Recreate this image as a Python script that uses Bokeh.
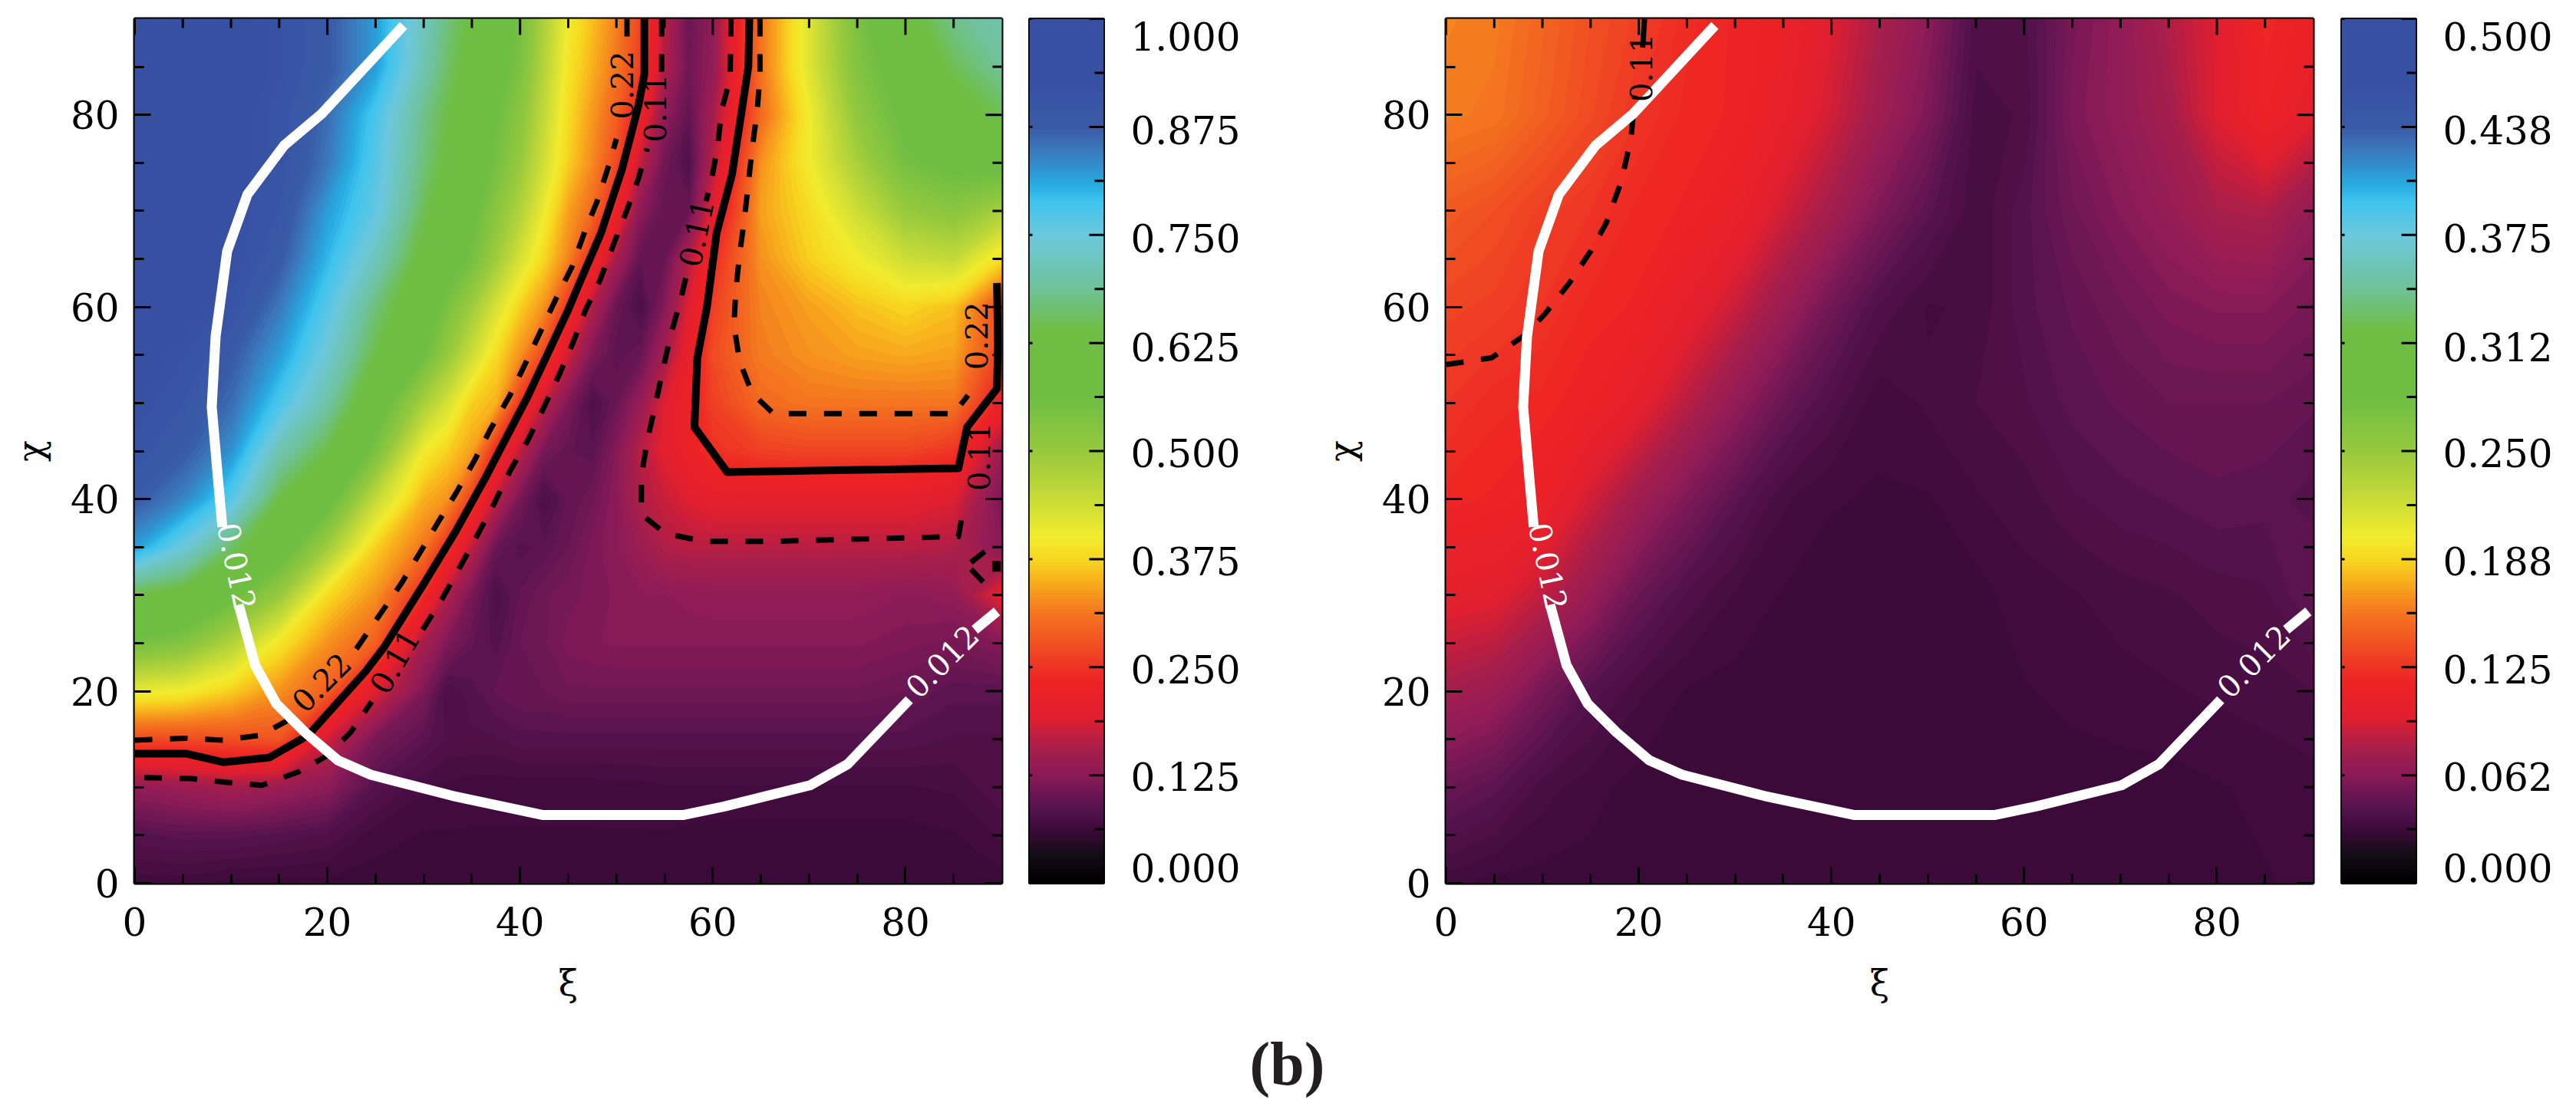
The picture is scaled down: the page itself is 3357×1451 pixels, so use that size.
import numpy as np
from bokeh.plotting import figure
from bokeh.layouts import row, column
from bokeh.embed import file_html
from bokeh.resources import INLINE
from bokeh.models import Range1d, LinearAxis, FixedTicker, LinearColorMapper
from bokeh.core.properties import value

XI_TICKS = [0, 20, 40, 60, 80]
MINOR_TICKS = [5, 10, 15, 25, 30, 35, 45, 50, 55, 65, 70, 75, 85]
xi_nodes_left = [0, 5, 10, 15, 20, 25, 30, 32.5, 35, 37.5, 40, 42.5, 45, 47.5, 50, 52.5, 55, 57.5, 60, 65, 70, 75, 80, 85, 90]
xi_nodes_right = list(range(0, 95, 5))
chi_nodes_left = list(range(0, 95, 5))
chi_nodes_right = list(range(0, 100, 10))

left_values = [
 [.065,.065,.06,.06,.06,.06,.06,.06,.06,.06,.06,.06,.06,.06,.06,.06,.06,.06,.06,.06,.06,.06,.06,.06,.06],
 [.085,.09,.09,.085,.08,.065,.062,.062,.062,.062,.062,.062,.062,.062,.062,.062,.062,.061,.06,.06,.06,.06,.06,.062,.07],
 [.13,.14,.15,.14,.125,.085,.07,.067,.065,.065,.065,.065,.065,.065,.066,.066,.068,.068,.068,.068,.068,.068,.068,.07,.08],
 [.27,.27,.275,.28,.18,.11,.09,.08,.08,.08,.085,.085,.085,.085,.085,.085,.085,.085,.085,.085,.085,.085,.085,.08,.08],
 [.41,.40,.37,.33,.29,.19,.115,.075,.085,.095,.10,.10,.105,.105,.105,.105,.105,.105,.105,.105,.105,.105,.10,.09,.09],
 [.55,.53,.47,.39,.33,.29,.15,.115,.095,.085,.10,.105,.115,.118,.12,.12,.12,.12,.12,.12,.12,.12,.115,.11,.12],
 [.64,.62,.57,.50,.38,.33,.24,.16,.11,.076,.095,.105,.11,.115,.12,.125,.125,.128,.13,.13,.13,.13,.125,.13,.20],
 [.82,.75,.66,.59,.49,.37,.31,.245,.17,.10,.085,.09,.10,.115,.125,.14,.16,.165,.165,.165,.165,.165,.165,.16,.12],
 [.88,.84,.77,.64,.58,.45,.35,.33,.26,.17,.11,.075,.095,.105,.125,.16,.175,.19,.20,.20,.20,.20,.20,.19,.11],
 [.91,.88,.83,.71,.64,.54,.40,.37,.34,.24,.17,.11,.095,.09,.12,.165,.195,.22,.245,.26,.265,.265,.265,.25,.14],
 [.93,.90,.86,.78,.70,.59,.48,.43,.37,.35,.25,.17,.115,.078,.10,.135,.19,.225,.26,.30,.31,.31,.31,.31,.22],
 [.94,.92,.88,.82,.74,.64,.56,.50,.44,.38,.33,.265,.18,.115,.09,.10,.15,.21,.27,.315,.33,.34,.345,.34,.26],
 [.95,.94,.91,.85,.77,.67,.59,.54,.49,.43,.37,.33,.25,.16,.10,.076,.12,.19,.26,.32,.34,.36,.375,.36,.27],
 [.96,.95,.93,.88,.80,.72,.62,.58,.55,.49,.43,.375,.32,.24,.15,.095,.10,.16,.24,.33,.37,.40,.44,.45,.38],
 [.96,.95,.93,.90,.82,.76,.65,.61,.57,.52,.47,.405,.34,.30,.225,.125,.095,.10,.195,.34,.38,.44,.50,.52,.48],
 [.96,.95,.94,.91,.85,.77,.67,.63,.59,.55,.50,.435,.37,.325,.27,.17,.105,.08,.165,.33,.40,.48,.55,.57,.58],
 [.96,.95,.94,.91,.86,.78,.68,.64,.60,.56,.52,.45,.38,.335,.29,.22,.13,.095,.15,.30,.40,.51,.57,.61,.65],
 [.96,.96,.95,.92,.88,.82,.71,.66,.62,.58,.54,.465,.39,.35,.31,.26,.16,.105,.13,.31,.42,.53,.59,.65,.69],
 [.97,.96,.95,.92,.88,.82,.72,.67,.63,.59,.55,.475,.40,.36,.32,.265,.165,.10,.13,.31,.42,.54,.62,.68,.71],
]

# read as fractions of the colour bar's top value (0.5)
right_fractions = [
 [.065,.06,.06,.06,.06,.06,.06,.06,.06,.06,.06,.06,.06,.06,.06,.06,.06,.062,.064],
 [.10,.09,.072,.065,.06,.06,.06,.06,.06,.06,.06,.06,.06,.06,.06,.06,.062,.064,.066],
 [.15,.14,.11,.085,.07,.062,.06,.06,.06,.06,.06,.06,.062,.064,.066,.068,.07,.072,.075],
 [.20,.195,.17,.135,.10,.08,.068,.062,.06,.06,.06,.06,.066,.068,.072,.074,.078,.08,.095],
 [.235,.23,.22,.18,.145,.115,.09,.07,.063,.062,.062,.068,.072,.08,.085,.088,.092,.09,.085],
 [.25,.24,.235,.225,.20,.165,.13,.10,.08,.064,.07,.075,.08,.09,.095,.10,.10,.10,.095],
 [.265,.26,.25,.235,.23,.205,.175,.14,.105,.08,.068,.07,.085,.095,.105,.115,.12,.12,.11],
 [.285,.275,.26,.25,.235,.23,.215,.18,.15,.115,.09,.07,.085,.105,.12,.135,.155,.16,.13],
 [.315,.31,.29,.27,.25,.235,.23,.21,.18,.145,.115,.072,.076,.115,.13,.15,.19,.225,.195],
 [.32,.315,.295,.275,.26,.24,.23,.22,.19,.155,.125,.078,.08,.11,.13,.16,.19,.235,.22],
]
RIGHT_TOP = 0.5

# colour bar stops (fraction of its height, colour)
bar_stops = [0, .03, .0625, .09, .125, .155, .19, .23, .25, .3125, .35, .375, .40, .45, .50,
             .56, .64, .69, .75, .79, .81, .85, .875, .93, 1]
bar_colors = ["#000000", "#120c14", "#3f0a3c", "#5a1450", "#8c1b58", "#a81e4a", "#e01f30",
              "#ee2224", "#ee3424", "#f4771f", "#f8b01c", "#f7d820", "#f2ec2e", "#c3d938",
              "#97c93d", "#6fbe44", "#6fbe44", "#6fc29a", "#6cc8dc", "#3fc4ee", "#27aae1",
              "#3b78bb", "#3a5ba8", "#3750a2", "#3750a2"]

left_bar_labels = ["0.000", "0.125", "0.250", "0.375", "0.500", "0.625", "0.750", "0.875", "1.000"]
right_bar_labels = ["0.000", "0.062", "0.125", "0.188", "0.250", "0.312", "0.375", "0.438", "0.500"]
# where the bar's labels sit along it, as fractions of its height
bar_label_at = [.018, .123, .248, .373, .498, .62, .746, .871, .98]

# contour lines (xi, chi)
white_upper_xi = [27.9, 19.4, 15.5, 11.7, 9.6, 8.4, 8.0, 8.7, 9.1]
white_upper_chi = [89.3, 80.1, 76.8, 71.7, 65.8, 56.9, 49.6, 41.5, 37.1]
white_lower_xi = [10.8, 12.5, 14.7, 17.7, 21.1, 24.5, 33.0, 42.4, 56.9, 61.2, 70.1, 74.0, 80.4]
white_lower_chi = [29.0, 22.7, 18.7, 15.7, 12.8, 11.3, 9.1, 7.1, 7.1, 8.0, 10.2, 12.4, 19.1]
white_end_xi = [87.2, 89.5]
white_end_chi = [26.4, 28.3]

ridge_solid_xi = [0.0, 5.3, 9.2, 14.0, 18.0, 24.0, 25.9, 29.9, 33.3, 36.5, 40.8, 45.0, 46.0, 48.4, 50.6, 52.3, 52.9, 52.9]
ridge_solid_chi = [13.5, 13.5, 12.6, 13.1, 15.4, 22.1, 24.6, 31.0, 36.6, 42.4, 50.7, 59.7, 62.1, 67.7, 74.4, 81.0, 84.2, 90.0]
ridge_up_a_xi = [0.0, 5.3, 9.2, 13.0, 15.8]
ridge_up_a_chi = [14.9, 15.1, 14.9, 15.4, 16.9]
ridge_up_b_xi = [23.0, 27.6, 29.6, 31.5, 33.4, 35.2, 37.0, 38.9, 40.5, 42.2, 43.7, 45.4, 46.7, 48.0, 49.2, 50.0]
ridge_up_b_chi = [24.4, 31.1, 34.4, 37.6, 40.7, 43.9, 47.4, 50.7, 54.0, 57.6, 60.8, 64.2, 67.8, 71.0, 74.7, 77.5]
ridge_up_c_xi = [51.1, 51.1]
ridge_up_c_chi = [90.0, 87.5]
ridge_low_a_xi = [1.0, 5.8, 9.6, 13.2, 17.0, 20.0, 22.4, 24.6]
ridge_low_a_chi = [11.0, 10.9, 10.5, 10.2, 11.6, 13.3, 15.7, 18.9]
ridge_low_b_xi = [29.9, 31.9, 33.7, 35.6, 37.3, 39.0, 40.8, 42.5, 44.0, 45.5, 46.8, 48.3, 49.7, 51.1, 52.3, 53.2]
ridge_low_b_chi = [26.4, 29.6, 32.8, 36.3, 39.5, 43.0, 46.1, 49.6, 52.8, 56.3, 59.7, 62.8, 66.5, 70.1, 73.4, 76.5]
ridge_low_c_xi = [54.7, 54.7]
ridge_low_c_chi = [90.0, 84.0]

box_solid_xi = [63.8, 63.7, 62.0, 60.4, 59.4, 58.4, 58.1, 61.5, 73.0, 85.5, 86.4, 89.5, 89.6, 89.5]
box_solid_chi = [90.0, 85.0, 73.8, 67.7, 60.0, 54.7, 47.5, 42.8, 43.0, 43.2, 47.5, 51.5, 56.2, 62.5]
box_in_xi = [64.9, 64.9, 64.6, 64.1, 63.7, 63.3, 62.8, 62.4, 62.2, 62.8, 64.1, 66.3, 85.0, 86.5]
box_in_chi = [90.0, 84.1, 80.3, 76.6, 72.9, 69.3, 65.6, 61.8, 58.1, 54.3, 51.0, 48.9, 48.9, 50.8]
box_out_a_xi = [61.9, 61.8, 60.9, 60.5, 59.8, 59.3]
box_out_a_chi = [90.0, 83.8, 80.4, 76.6, 72.9, 71.0]
box_out_b_xi = [57.2, 56.7, 55.7, 54.8, 54.0, 53.2, 52.6, 52.6, 55.1, 59.1, 66.3, 85.5, 86.1]
box_out_b_chi = [63.0, 60.9, 57.3, 53.4, 49.6, 46.1, 42.4, 38.4, 36.4, 35.6, 35.6, 36.1, 39.5]
edge_up_xi = [86.8, 88.7, 89.8]
edge_up_chi = [33.4, 34.9, 34.9]
edge_low_xi = [86.8, 88.9]
edge_low_chi = [32.7, 30.5]
edge_blob_xi = [89.0, 89.9]
edge_blob_chi = [33.0, 33.0]

right_dash_xi = [0.0, 4.7, 8.1, 10.2, 12.8, 15.0, 16.6, 18.2, 19.2, 19.6]
right_dash_chi = [54.0, 54.7, 57.0, 59.2, 62.5, 65.8, 68.7, 73.1, 77.6, 82.0]
right_dash_top_xi = [20.4, 20.6]
right_dash_top_chi = [87.0, 90.0]

left_black_text = ["0.22", "0.11", "0.11", "0.22", "0.11", "0.22", "0.11"]
left_black_xi = [50.6, 54.0, 58.3, 87.4, 87.6, 19.4, 27.0]
left_black_chi = [83.1, 80.7, 67.7, 57.0, 44.4, 20.9, 23.1]
left_black_deg = [90, 90, 78, 90, 90, 45, 60]
right_black_text = ["0.11"]
right_black_xi = [20.2]
right_black_chi = [84.9]
right_black_deg = [90]
white_text = ["0.012", "0.012"]
white_text_xi = [10.6, 83.8]
white_text_chi = [33.0, 23.1]
white_text_deg = [-78, 45]

FONT = "DejaVu Serif"
LBL = "50px"
HEAT_MAJOR = 21 * 90 / 1127
HEAT_MINOR = 12 * 90 / 1127


def hex_rgb(h):
    return [int(h[i:i + 2], 16) for i in (1, 3, 5)]


def bar_color(f):
    rgb = np.array([hex_rgb(c) for c in bar_colors], dtype=float)
    vals = [int(round(np.interp(f, bar_stops, rgb[:, k]))) for k in range(3)]
    return "#%02x%02x%02x" % tuple(vals)


N_BANDS = 160


def style_frame(p):
    p.grid.visible = False
    p.outline_line_color = "black"
    p.outline_line_width = 4
    p.background_fill_color = "white"
    p.border_fill_color = "white"


def heat_panel(x_nodes, y_nodes, field, top, left_border, right_border):
    p = figure(width=left_border + 1130 + right_border, height=24 + 1127 + 169,
               x_range=Range1d(0, 90), y_range=Range1d(0, 90), output_backend="svg",
               toolbar_location=None, min_border_left=left_border, min_border_right=right_border,
               min_border_top=24, min_border_bottom=169, x_axis_label="ξ", y_axis_label="χ")
    style_frame(p)
    x = np.array(x_nodes, float)
    y = np.array(y_nodes, float)
    z = np.array(field, float)
    # a backing layer whose band edges fall half a band away, so no seam shows the white page
    frac_levels = [np.linspace(-.5, N_BANDS + .5, N_BANDS + 2) / N_BANDS, np.linspace(0, N_BANDS, N_BANDS + 1) / N_BANDS]
    for fl in frac_levels:
        colors = [bar_color(min(max((fl[i] + fl[i + 1]) / 2, 0), 1)) for i in range(len(fl) - 1)]
        p.contour(x, y, z, list(fl * top), fill_color=colors, line_color=None)
    tick = FixedTicker(ticks=XI_TICKS, minor_ticks=MINOR_TICKS)
    for ax in (p.xaxis[0], p.yaxis[0]):
        ax.ticker = tick
        ax.major_tick_in = 21
        ax.major_tick_out = 0
        ax.minor_tick_in = 12
        ax.minor_tick_out = 0
        ax.major_tick_line_width = 3
        ax.minor_tick_line_width = 3
        ax.axis_line_color = None
        ax.major_label_text_font = FONT
        ax.major_label_text_font_size = LBL
        ax.major_label_text_color = "black"
        ax.axis_label_text_font = FONT
        ax.axis_label_text_font_size = "46px"
        ax.axis_label_text_font_style = "normal"
        ax.axis_label_text_color = "black"
    p.xaxis[0].major_label_standoff = 31
    p.yaxis[0].major_label_standoff = 20
    p.xaxis[0].axis_label_standoff = 32
    p.yaxis[0].axis_label_standoff = 22
    for ticks, length in ((XI_TICKS, HEAT_MAJOR), (MINOR_TICKS, HEAT_MINOR)):
        n = len(ticks)
        p.segment(x0=ticks, y0=[90] * n, x1=ticks, y1=[90 - length] * n, line_color="black", line_width=3)
        p.segment(x0=[90] * n, y0=ticks, x1=[90 - length] * n, y1=ticks, line_color="black", line_width=3)
    return p


def bar_panel(labels, top, left_border, right_border):
    p = figure(width=left_border + 97 + right_border, height=24 + 1127 + 169,
               x_range=Range1d(0, 1), y_range=Range1d(0, top), output_backend="svg",
               toolbar_location=None, min_border_left=left_border, min_border_right=right_border,
               min_border_top=24, min_border_bottom=169, x_axis_type=None, y_axis_type=None)
    style_frame(p)
    p.outline_line_width = 3
    ramp = np.linspace(0, top, 512).reshape(-1, 1)
    mapper = LinearColorMapper(palette=[bar_color(i / 255) for i in range(256)], low=0, high=top)
    p.image(image=[ramp], x=0, y=0, dw=1, dh=top, color_mapper=mapper)
    major = [top * i / 8 for i in range(9)]
    minor = [top * (i + .5) / 8 for i in range(8)]
    p.segment(x0=[1] * 9, y0=major, x1=[1 - 19 / 97] * 9, y1=major, line_color="black", line_width=3)
    p.segment(x0=[1] * 8, y0=minor, x1=[1 - 12 / 97] * 8, y1=minor, line_color="black", line_width=3)
    p.segment(x0=[0] * 9, y0=major, x1=[4 / 97] * 9, y1=major, line_color="black", line_width=3)
    spots = [round(top * f, 5) for f in bar_label_at]
    ax = LinearAxis(ticker=FixedTicker(ticks=spots, minor_ticks=[]),
                    major_label_overrides=dict(zip(spots, labels)),
                    axis_line_color=None, major_tick_line_color=None, minor_tick_line_color=None,
                    major_tick_in=0, major_tick_out=0, minor_tick_in=0, minor_tick_out=0,
                    major_label_standoff=35, major_label_text_font=FONT, major_label_text_font_size=LBL,
                    major_label_text_color="black")
    p.add_layout(ax, "right")
    return p


def draw(p, xs, ys, color="black", width=7, dash="solid"):
    p.line(xs, ys, line_color=color, line_width=width, line_dash=dash, line_join="round")


def draw_white(p):
    for xs, ys in ((white_upper_xi, white_upper_chi), (white_lower_xi, white_lower_chi), (white_end_xi, white_end_chi)):
        draw(p, xs, ys, "white", 13)


def tags(p, txt, xs, ys, deg, color):
    p.text(xs, ys, text=txt, angle=deg, angle_units="deg", text_color=color, text_font=value(FONT),
           text_font_size="40px", text_align="center", text_baseline="middle")


DASH = "23 23"
a = heat_panel(xi_nodes_left, chi_nodes_left, left_values, 1.0, 175, 17)
for xs, ys in ((ridge_up_a_xi, ridge_up_a_chi), (ridge_up_b_xi, ridge_up_b_chi), (ridge_up_c_xi, ridge_up_c_chi),
               (ridge_low_a_xi, ridge_low_a_chi), (ridge_low_b_xi, ridge_low_b_chi), (ridge_low_c_xi, ridge_low_c_chi),
               (box_in_xi, box_in_chi), (box_out_a_xi, box_out_a_chi), (box_out_b_xi, box_out_b_chi),
               (edge_up_xi, edge_up_chi), (edge_low_xi, edge_low_chi)):
    draw(a, xs, ys, "black", 7, DASH)
draw(a, edge_blob_xi, edge_blob_chi, "black", 14)
draw(a, ridge_solid_xi, ridge_solid_chi, "black", 10)
draw(a, box_solid_xi, box_solid_chi, "black", 10)
draw_white(a)
tags(a, left_black_text, left_black_xi, left_black_chi, left_black_deg, "black")
tags(a, white_text, white_text_xi, white_text_chi, white_text_deg, "white")

b = bar_panel(left_bar_labels, 1.0, 19, 202)

c = heat_panel(xi_nodes_right, chi_nodes_right, np.array(right_fractions) * RIGHT_TOP, RIGHT_TOP, 244, 18)
draw(c, right_dash_xi, right_dash_chi, "black", 7, DASH)
draw(c, right_dash_top_xi, right_dash_top_chi, "black", 7)
draw_white(c)
tags(c, right_black_text, right_black_xi, right_black_chi, right_black_deg, "black")
tags(c, white_text, white_text_xi, white_text_chi, white_text_deg, "white")

d = bar_panel(right_bar_labels, RIGHT_TOP, 19, 197)

cap = figure(width=3345, height=125, x_range=Range1d(0, 3345), y_range=Range1d(1445, 1320),
             output_backend="svg", toolbar_location=None, x_axis_type=None, y_axis_type=None,
             min_border=0)
cap.grid.visible = False
cap.outline_line_color = None
cap.text([1677], [1386], text=["(b)"], text_font=value("Liberation Serif"), text_font_style="bold",
         text_font_size="80px", text_align="center", text_baseline="middle", text_color="#231f20")

page = column(row(a, b, c, d), cap)
open("out.html", "w").write(file_html(page, INLINE))
